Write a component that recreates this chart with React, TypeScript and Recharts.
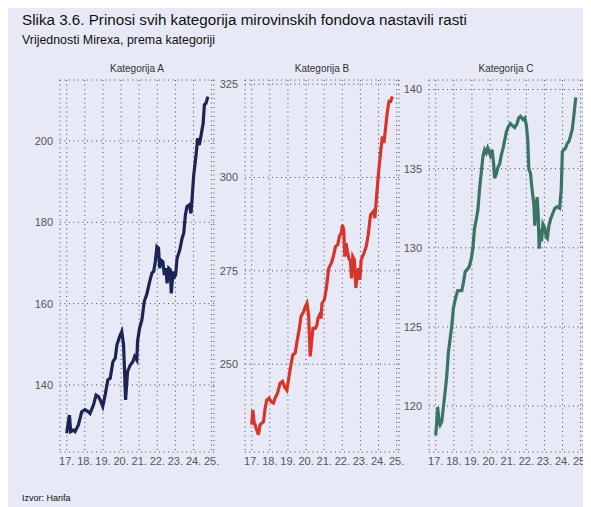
import { LineChart, Line, XAxis, YAxis, CartesianGrid } from 'recharts';

// [year, Mirex value]
const KATEGORIJA_A: [number, number][] = [
  [17.0, 128.1], [17.15, 132.6], [17.22, 128.5], [17.37, 128.9], [17.46, 128.5], [17.65, 130.2],
  [17.83, 133.4], [18.01, 133.9], [18.2, 133.4], [18.29, 133.0], [18.48, 135.1], [18.62, 137.5],
  [18.75, 137.1], [18.85, 136.3], [18.99, 134.7], [19.12, 137.5], [19.27, 141.2], [19.4, 141.6],
  [19.55, 145.7], [19.68, 146.6], [19.77, 149.8], [19.92, 151.9], [20.04, 153.1], [20.14, 149.8],
  [20.25, 136.3], [20.36, 143.3], [20.51, 144.9], [20.65, 145.7], [20.75, 147.0], [20.87, 146.1],
  [20.91, 150.7], [21.02, 153.9], [21.15, 156.0], [21.28, 160.5], [21.43, 162.5], [21.58, 165.4],
  [21.7, 167.5], [21.8, 167.9], [21.89, 170.3], [21.98, 174.0], [22.07, 173.6], [22.13, 168.7],
  [22.2, 170.7], [22.31, 170.3], [22.39, 167.0], [22.48, 168.7], [22.54, 165.0], [22.63, 168.7],
  [22.72, 168.3], [22.77, 162.5], [22.87, 167.9], [22.94, 166.6], [23.01, 167.0], [23.09, 171.1],
  [23.24, 173.2], [23.37, 176.1], [23.46, 177.3], [23.55, 181.8], [23.64, 183.9], [23.77, 184.3],
  [23.86, 182.2], [23.92, 185.9], [24.01, 191.6], [24.14, 196.6], [24.23, 200.7], [24.32, 199.0],
  [24.42, 201.5], [24.53, 204.3], [24.6, 208.9], [24.69, 209.3], [24.79, 210.9],
];

const KATEGORIJA_B: [number, number][] = [
  [17.0, 233.8], [17.06, 237.8], [17.13, 234.6], [17.24, 232.9], [17.37, 231.1], [17.46, 233.8],
  [17.65, 234.6], [17.74, 238.2], [17.83, 240.4], [17.96, 240.9], [18.07, 240.0], [18.2, 239.6],
  [18.29, 240.9], [18.42, 242.2], [18.57, 244.9], [18.7, 245.4], [18.81, 244.0], [18.94, 243.1],
  [19.03, 245.8], [19.13, 248.9], [19.27, 252.5], [19.4, 253.0], [19.5, 256.1], [19.62, 259.2],
  [19.72, 262.8], [19.87, 264.1], [19.96, 265.4], [20.05, 266.3], [20.14, 263.2], [20.23, 252.1],
  [20.31, 256.1], [20.38, 259.6], [20.51, 259.6], [20.6, 260.5], [20.66, 262.3], [20.75, 263.2],
  [20.83, 262.3], [20.88, 266.3], [21.01, 267.2], [21.12, 270.4], [21.25, 275.7], [21.4, 277.1],
  [21.53, 279.3], [21.62, 281.5], [21.75, 282.0], [21.84, 284.2], [21.94, 285.1], [22.01, 287.3],
  [22.08, 286.0], [22.14, 278.8], [22.21, 282.4], [22.27, 280.6], [22.36, 278.4], [22.45, 277.5],
  [22.51, 273.0], [22.58, 278.8], [22.67, 277.9], [22.75, 270.4], [22.82, 273.9], [22.9, 275.7],
  [22.97, 272.6], [23.04, 277.9], [23.19, 279.7], [23.32, 281.5], [23.43, 284.6], [23.56, 290.0],
  [23.71, 290.9], [23.8, 289.1], [23.9, 295.4], [23.99, 300.7], [24.08, 305.2], [24.21, 311.0],
  [24.3, 309.2], [24.39, 313.2], [24.49, 317.7], [24.58, 320.4], [24.67, 320.4], [24.76, 321.7],
];

const KATEGORIJA_C: [number, number][] = [
  [17.0, 118.15], [17.06, 119.0], [17.11, 119.94], [17.18, 119.0], [17.24, 118.8], [17.33, 119.0],
  [17.43, 120.0], [17.52, 120.9], [17.61, 121.9], [17.7, 123.4], [17.79, 124.2], [17.89, 125.1],
  [17.98, 126.2], [18.11, 126.9], [18.22, 127.3], [18.35, 127.3], [18.44, 127.3], [18.53, 127.8],
  [18.63, 128.5], [18.72, 128.6], [18.85, 128.8], [18.96, 129.3], [19.05, 129.95], [19.14, 131.2],
  [19.24, 131.8], [19.33, 132.4], [19.42, 133.7], [19.51, 134.7], [19.61, 135.8], [19.7, 136.2],
  [19.79, 136.0], [19.87, 136.3], [19.96, 136.0], [20.01, 135.85], [20.11, 136.2], [20.2, 135.3],
  [20.25, 134.4], [20.35, 134.7], [20.44, 135.1], [20.53, 135.3], [20.62, 135.85], [20.72, 136.3],
  [20.81, 136.8], [20.9, 137.3], [20.99, 137.6], [21.12, 137.85], [21.25, 137.7], [21.36, 137.6],
  [21.49, 137.85], [21.58, 138.2], [21.68, 138.3], [21.81, 138.1], [21.92, 138.2], [22.01, 137.7],
  [22.08, 136.8], [22.14, 135.0], [22.23, 134.7], [22.32, 133.7], [22.42, 132.7], [22.47, 131.4],
  [22.55, 132.7], [22.6, 133.2], [22.66, 132.05], [22.71, 129.95], [22.79, 131.2], [22.84, 130.4],
  [22.92, 131.5], [23.01, 131.3], [23.1, 130.7], [23.16, 130.6], [23.25, 131.4], [23.34, 131.8],
  [23.47, 132.2], [23.58, 132.5], [23.71, 132.6], [23.84, 132.5], [23.93, 133.7], [23.99, 136.06],
  [24.08, 136.2], [24.17, 136.3], [24.26, 136.6], [24.35, 136.7], [24.45, 137.1], [24.54, 137.5],
  [24.63, 138.4], [24.73, 139.5],
];

const YEAR_TICKS = [17, 18, 19, 20, 21, 22, 23, 24, 25];
const TICKS_A = [140, 160, 180, 200];
const TICKS_B = [250, 275, 300, 325];
const TICKS_C = [120, 125, 130, 135, 140];

const FONT = '"Liberation Sans", Arial, Helvetica, sans-serif';
const BG = '#E7E9F6';

type PanelProps = {
  title: string;
  points: [number, number][];
  ticks: number[];
  domain: [number, number];
  color: string;
  left: number;
};

function Panel({ title, points, ticks, domain, color, left }: PanelProps) {
  const data = points.map(([x, y]) => ({ x, y }));
  return (
    <div style={{ position: 'absolute', left, top: 52 }}>
      <div
        style={{
          position: 'absolute',
          left: 40,
          width: 154,
          top: 3,
          textAlign: 'center',
          fontSize: 10,
          color: '#333',
        }}
      >
        {title}
      </div>
      <LineChart width={210} height={416} data={data} margin={{ top: 20, right: 16, left: 0, bottom: 0 }}>
        <CartesianGrid stroke="#4a4a4a" strokeDasharray="1 3.5" />
        <XAxis
          dataKey="x"
          type="number"
          domain={[16.63, 25.13]}
          ticks={YEAR_TICKS}
          allowDataOverflow
          tickFormatter={(v) => `${v}.`}
          axisLine={false}
          tickLine={false}
          tickSize={4}
          tickMargin={1}
          height={24}
          interval={0}
          tick={{ fontSize: 11, fill: '#555', fontFamily: FONT }}
        />
        <YAxis
          type="number"
          domain={domain}
          ticks={ticks}
          allowDataOverflow
          axisLine={false}
          tickLine={false}
          tickSize={4}
          tickMargin={3}
          width={40}
          interval={0}
          tick={{ fontSize: 11, fill: '#555', fontFamily: FONT }}
        />
        <Line
          type="linear"
          dataKey="y"
          stroke={color}
          strokeWidth={3.2}
          dot={false}
          isAnimationActive={false}
        />
      </LineChart>
    </div>
  );
}

export default function App() {
  return (
    <div style={{ position: 'relative', width: 583, height: 499, background: BG, fontFamily: FONT, overflow: 'hidden' }}>
      <style>{'html,body{overflow:hidden}'}</style>
      <div style={{ position: 'absolute', left: 14, top: 3, fontSize: 15.2, color: '#111' }}>
        Slika 3.6. Prinosi svih kategorija mirovinskih fondova nastavili rasti
      </div>
      <div style={{ position: 'absolute', left: 14, top: 25, fontSize: 12.4, color: '#111' }}>
        Vrijednosti Mirexa, prema kategoriji
      </div>
      <Panel title="Kategorija A" points={KATEGORIJA_A} ticks={TICKS_A} domain={[123.5, 215]} color="#1B2452" left={12} />
      <Panel title="Kategorija B" points={KATEGORIJA_B} ticks={TICKS_B} domain={[226.5, 326.1]} color="#D9342B" left={197} />
      <Panel title="Kategorija C" points={KATEGORIJA_C} ticks={TICKS_C} domain={[117.1, 140.6]} color="#3A7563" left={381} />
      <div style={{ position: 'absolute', left: 14, top: 485, fontSize: 9, color: '#111' }}>Izvor: Hanfa</div>
    </div>
  );
}
